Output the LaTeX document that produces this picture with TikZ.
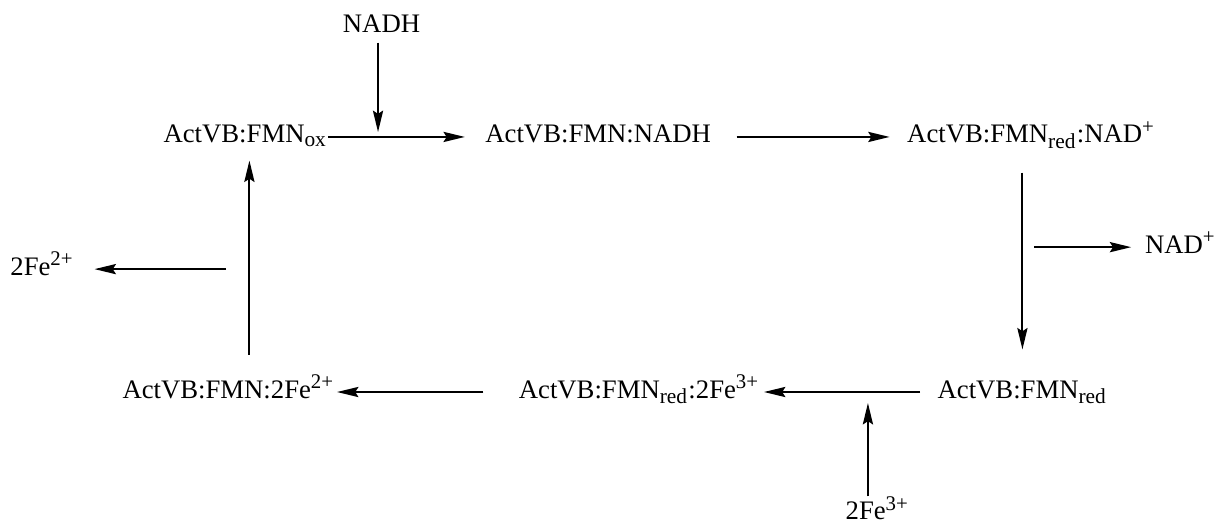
\documentclass[tikz,border=0pt]{standalone}
\usepackage{fontspec}
\setmainfont{Liberation Serif}
\usepackage{tikz}
\usetikzlibrary{arrows.meta, positioning, calc}
\newcommand{\chlo}[1]{\textsubscript{\fontsize{8}{8}\selectfont #1}}
\newcommand{\chhi}[1]{\textsuperscript{\fontsize{7.8}{8}\selectfont #1}}

\begin{document}
\begin{tikzpicture}[
    species/.style={inner sep=0pt, text height=6pt, text depth=1.5pt, font=\fontsize{10}{12}\selectfont},
    rxn/.style={-{Stealth[length=8pt, width=3.8pt, inset=1.2pt]}, line width=0.75pt}
  ]
  \useasboundingbox (0,0) rectangle (16,6.921);

  % Cycle species (top row)
  \node[species, anchor=base west] (fmnox)   at (2.145,5.04) {ActVB:FMN\chlo{ox}};
  \node[species, anchor=base west] (fmnnadh) at (6.38,5.04)  {ActVB:FMN:NADH};
  \node[species, anchor=base west] (rednad)  at (11.93,5.04) {ActVB:FMN\chlo{red}:NAD\chhi{+}};

  % Cycle species (bottom row)
  \node[species, anchor=base west] (fmnred)  at (12.33,1.684) {ActVB:FMN\chlo{red}};
  \node[species, anchor=base west] (red2fe)  at (6.82,1.684)  {ActVB:FMN\chlo{red}:2Fe\chhi{3+}};
  \node[species, anchor=base west] (fmn2fe)  at (1.605,1.684) {ActVB:FMN:2Fe\chhi{2+}};

  % Substrates and products
  \node[species, anchor=base] (nadh) at (5.02,6.50)  {NADH};
  \node[species, anchor=base west] (nadp) at (15.06,3.59) {NAD\chhi{+}};
  \node[species, anchor=base west] (fe2)  at (0.13,3.30)  {2Fe\chhi{2+}};
  \node[species, anchor=base west] (fe3)  at (11.12,0.08) {2Fe\chhi{3+}};

  % Free ends of the side arrows
  \coordinate (nadhin) at (4.974,5.184);
  \coordinate (fe3in)  at (11.42,1.618);
  \coordinate (nadout) at (13.605,3.669);
  \coordinate (fe2out) at (2.974,3.38);

  % Cycle arrows
  \draw[rxn, shorten >=7.5pt] (fmnox.east) -- (fmnnadh.west);
  \draw[rxn, shorten <=9.4pt, shorten >=6.4pt] (fmnnadh.east) -- (rednad.west);
  \draw[rxn, shorten <=9.4pt, shorten >=12pt] (rednad.south -| fmnred) -- (fmnred.north);
  \draw[rxn, shorten <=6.4pt, shorten >=1.5pt] (fmnred.west) -- (red2fe.east);
  \draw[rxn, shorten <=13.1pt, shorten >=0.75pt] (red2fe.west) -- (fmn2fe.east);
  \draw[rxn, shorten <=10pt, shorten >=4.9pt] ([xshift=1.5pt]fmn2fe.north -| fmnox.south) -- ([xshift=1.5pt]fmnox.south);

  % Side arrows
  \draw[rxn, shorten <=2.25pt] (nadh.south -| nadhin) -- (nadhin);
  \draw[rxn, shorten >=5pt] (nadout) -- (nadout -| nadp.west);
  \draw[rxn, shorten <=2.6pt] (fe3.north -| fe3in) -- (fe3in);
  \draw[rxn, shorten >=7.5pt] (fe2out) -- (fe2out -| fe2.east);
\end{tikzpicture}
\end{document}
